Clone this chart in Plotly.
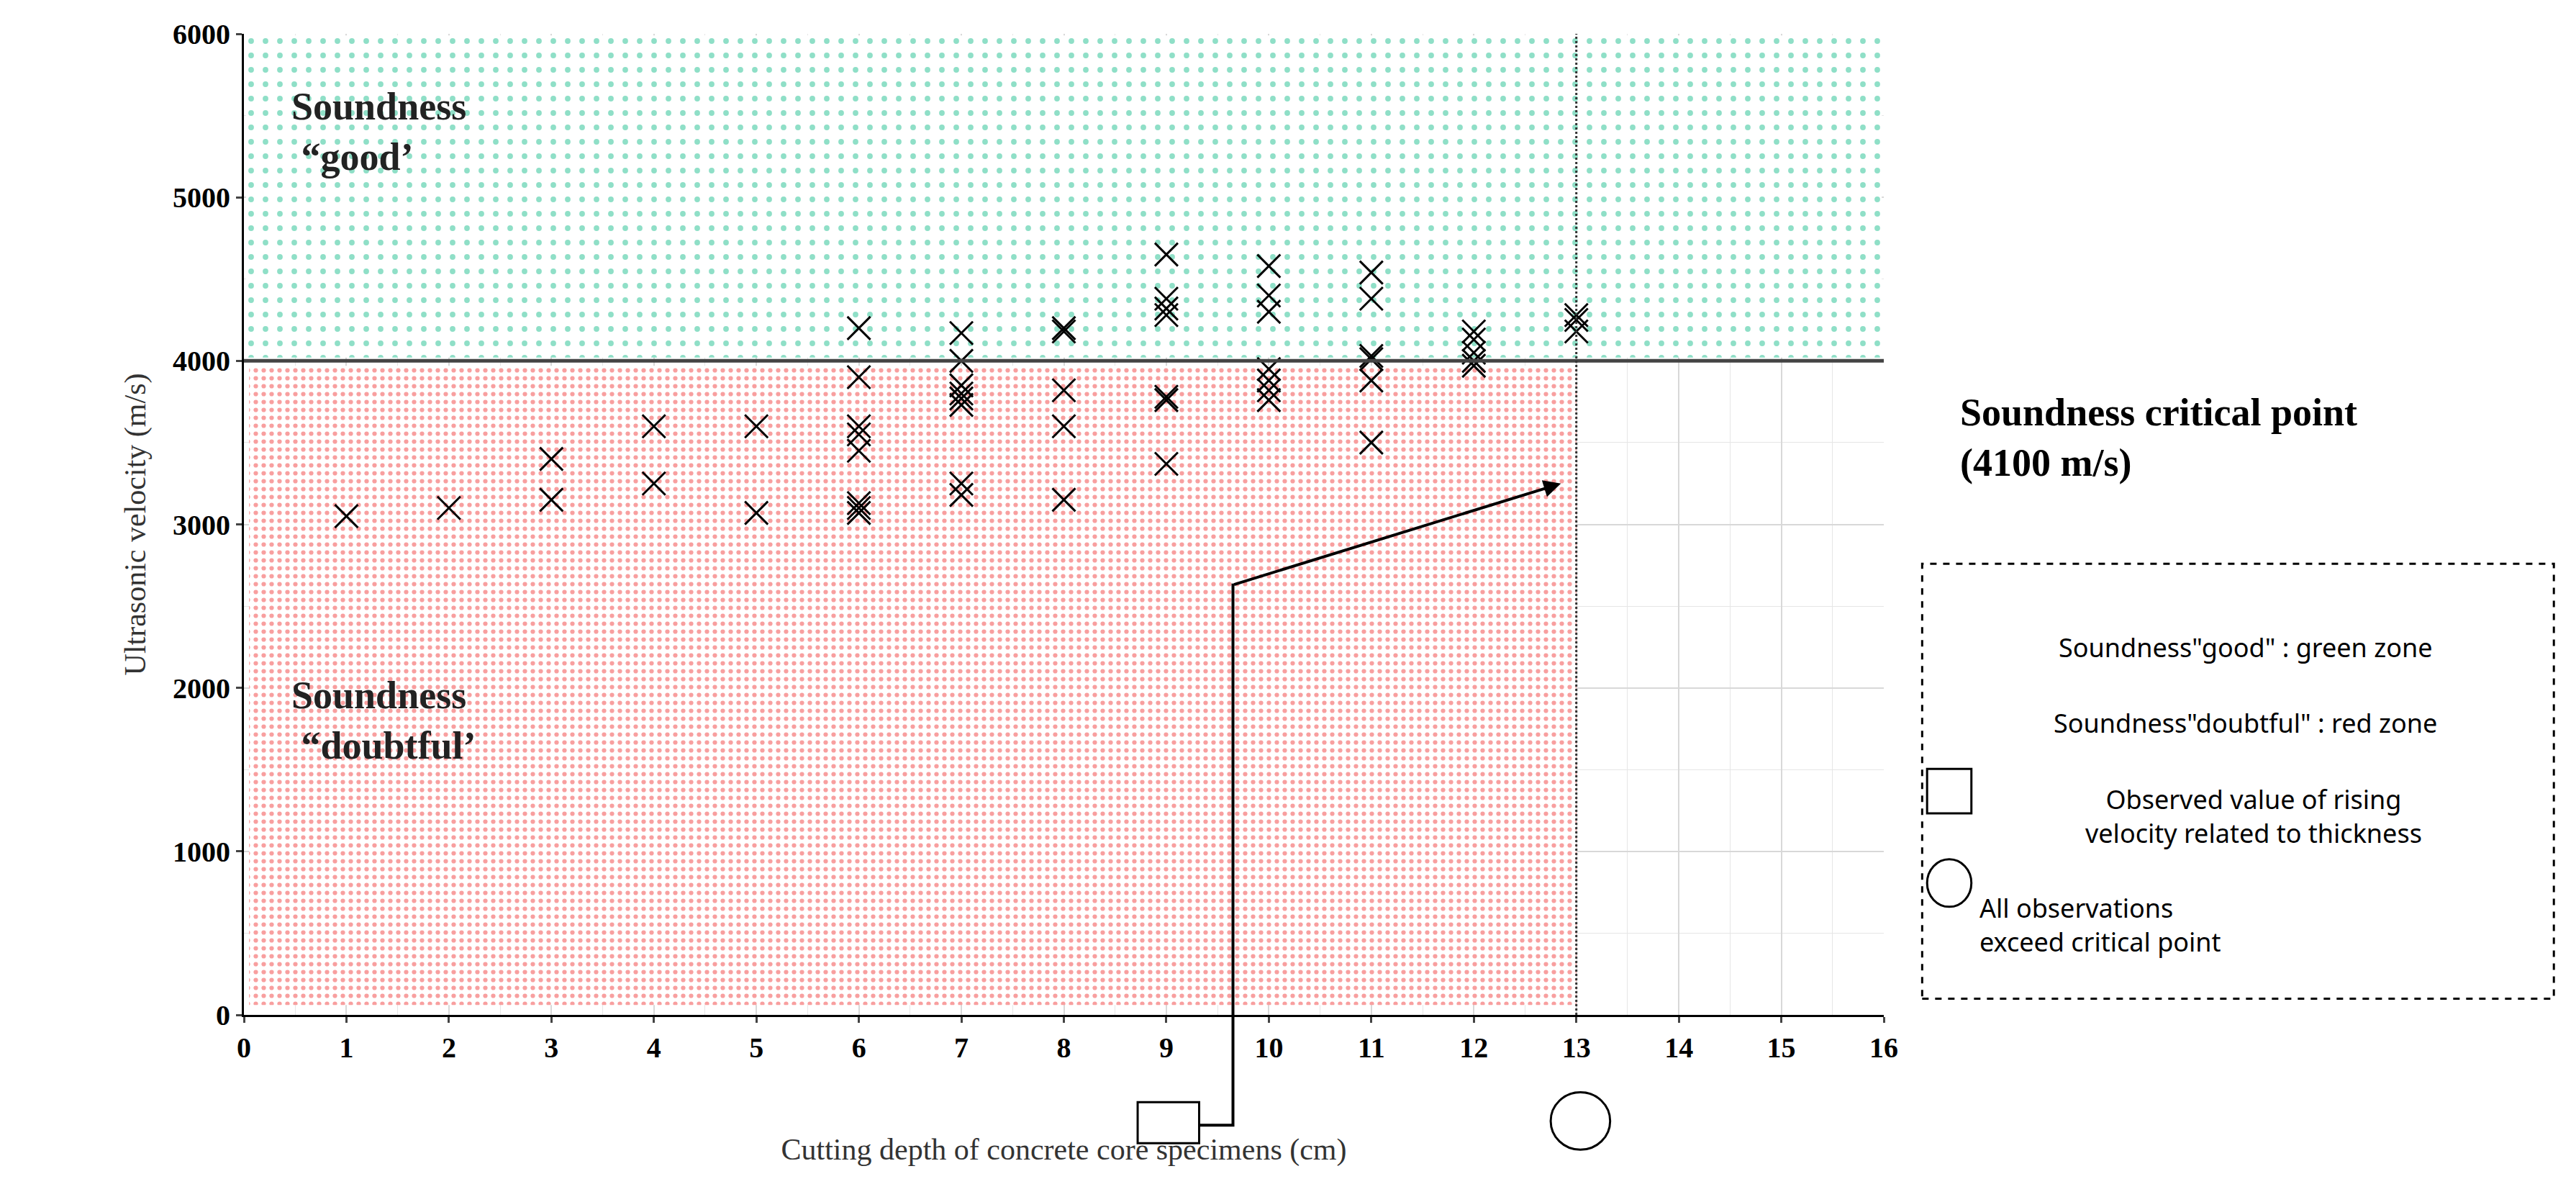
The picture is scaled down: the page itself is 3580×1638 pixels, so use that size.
import plotly.graph_objects as go

depth = [1, 2, 3, 3, 4, 4, 5, 5,
         6, 6, 6, 6, 6, 6, 6, 6,
         7, 7, 7, 7, 7, 7, 7, 7,
         8, 8, 8, 8, 8,
         9, 9, 9, 9, 9, 9, 9,
         10, 10, 10, 10, 10, 10, 10,
         11, 11, 11, 11, 11, 11,
         12, 12, 12, 12, 12,
         13, 13, 13]
velocity = [3050, 3100, 3400, 3150, 3600, 3250, 3600, 3070,
            4200, 3900, 3600, 3550, 3450, 3130, 3100, 3070,
            4170, 4000, 3850, 3800, 3770, 3730, 3250, 3180,
            4200, 4180, 3820, 3600, 3150,
            4650, 4380, 4320, 4280, 3780, 3760, 3370,
            4580, 4400, 4300, 3950, 3880, 3820, 3760,
            4540, 4380, 4030, 4010, 3880, 3500,
            4180, 4130, 4050, 4000, 3970,
            4280, 4250, 4180]
x_ticks = list(range(0, 17))
y_ticks = [0, 1000, 2000, 3000, 4000, 5000, 6000]
critical = 4000

W, H = 3580, 1638
L, R, T, B = 331, 2610, 39, 1402
S = W / 1570.0
def px(xd): return (xd * S - L) / (R - L)
def py(yd): return (B - yd * S) / (B - T)

fig = go.Figure()
fig.add_trace(go.Scatter(x=[0.02, 15.98, 15.98, 0.02, 0.02], y=[4020, 4020, 5990, 5990, 4020],
    fill='toself', mode='none', hoverinfo='skip', showlegend=False,
    fillcolor='white',
    fillpattern=dict(shape='.', fgcolor='#20c090', bgcolor='white', size=20, solidity=0.12)))
fig.add_trace(go.Scatter(x=[0.05, 13, 13, 0.05, 0.05], y=[60, 60, 3970, 3970, 60],
    fill='toself', mode='none', hoverinfo='skip', showlegend=False,
    fillcolor='white',
    fillpattern=dict(shape='.', fgcolor='#f24040', bgcolor='white', size=11, solidity=0.25)))
fig.add_trace(go.Scatter(x=depth, y=velocity, mode='markers', showlegend=False,
    marker=dict(symbol='x-thin', size=32, line=dict(width=3, color='black'), color='black')))

fig.add_shape(type='line', xref='x', yref='y', x0=0, x1=16.4, y0=critical, y1=critical,
              line=dict(color='#444', width=5))
fig.add_shape(type='line', xref='x', yref='y', x0=13, x1=13, y0=0, y1=6000,
              line=dict(color='#333', width=3, dash='dot'))

fig.add_shape(type='rect', xref='x', yref='paper', x0=8.72, x1=9.32, y0=py(693), y1=py(668),
              line=dict(color='black', width=3))
fig.add_shape(type='circle', xref='x', yref='paper', x0=12.75, x1=13.33, y0=py(697), y1=py(662),
              line=dict(color='black', width=3))
fig.add_shape(type='path', xref='x', yref='paper',
              path=f'M 9.32 {py(682)} L 9.65 {py(682)} L 9.65 {py(352)}',
              line=dict(color='black', width=4))
fig.add_annotation(x=12.85, y=3250, ax=9.65, ay=2630, xref='x', yref='y', axref='x', ayref='y',
                   showarrow=True, arrowhead=2, arrowsize=1.2, arrowwidth=4, arrowcolor='black', text='')

serif = 'Liberation Serif'
fig.add_annotation(x=0.45, y=5400, xref='x', yref='y', text='<b>Soundness<br> “good’</b>',
                   showarrow=False, xanchor='left', align='left', font=dict(family=serif, size=54, color='#222'))
fig.add_annotation(x=0.45, y=1800, xref='x', yref='y', text='<b>Soundness<br> “doubtful’</b>',
                   showarrow=False, xanchor='left', align='left', font=dict(family=serif, size=54, color='#222'))
fig.add_annotation(x=px(1190), y=py(263), xref='paper', yref='paper',
                   text='<b>Soundness critical point<br>(4100 m/s)</b>', showarrow=False,
                   xanchor='left', yanchor='middle', align='left', font=dict(family=serif, size=54, color='black'))

fig.add_shape(type='rect', xref='paper', yref='paper', x0=px(1168), x1=px(1553), y0=py(605), y1=py(340),
              line=dict(color='black', width=3, dash='dash'))
sans = 'Noto Sans'
fig.add_annotation(x=px(1365), y=py(391), xref='paper', yref='paper', showarrow=False, xanchor='center', yanchor='middle',
                   text='Soundness"good" : green zone', font=dict(family=sans, size=36, color='black'))
fig.add_annotation(x=px(1365), y=py(437), xref='paper', yref='paper', showarrow=False, xanchor='center', yanchor='middle',
                   text='Soundness"doubtful" : red zone', font=dict(family=sans, size=36, color='black'))
fig.add_annotation(x=px(1370), y=py(494), xref='paper', yref='paper', showarrow=False, xanchor='center', yanchor='middle',
                   text='Observed value of rising<br>velocity related to thickness',
                   font=dict(family=sans, size=36, color='black'))
fig.add_annotation(x=px(1202), y=py(560), xref='paper', yref='paper', showarrow=False, xanchor='left', yanchor='middle',
                   align='left', text='All observations<br>exceed critical point', font=dict(family=sans, size=36, color='black'))
fig.add_shape(type='rect', xref='paper', yref='paper', x0=px(1171), x1=px(1198), y0=py(492), y1=py(465),
              line=dict(color='black', width=3))
fig.add_shape(type='circle', xref='paper', yref='paper', x0=px(1171), x1=px(1198), y0=py(549), y1=py(520),
              line=dict(color='black', width=3))

fig.update_layout(
    width=W, height=H, margin=dict(l=L, r=W - R, t=T, b=H - B),
    plot_bgcolor='white', paper_bgcolor='white',
    xaxis=dict(range=[0, 16], tickvals=x_ticks, showgrid=True, gridcolor='#d8d8d8', gridwidth=2,
               minor=dict(dtick=0.5, showgrid=True, gridcolor='#e6e6e6', gridwidth=1),
               showline=True, linecolor='black', linewidth=3, ticks='outside', ticklen=8, tickwidth=3,
               tickfont=dict(family=serif, size=40, color='black', weight='bold'),
               title=dict(text='Cutting depth of concrete core specimens (cm)', standoff=105,
                          font=dict(family=serif, size=42, color='#333')), zeroline=False),
    yaxis=dict(range=[0, 6000], tickvals=y_ticks, showgrid=True, gridcolor='#d8d8d8', gridwidth=2,
               minor=dict(dtick=500, showgrid=True, gridcolor='#e6e6e6', gridwidth=1),
               showline=True, linecolor='black', linewidth=3, ticks='outside', ticklen=8, tickwidth=3,
               tickfont=dict(family=serif, size=40, color='black', weight='bold'),
               title=dict(text='Ultrasonic velocity (m/s)', standoff=25,
                          font=dict(family=serif, size=42, color='#333')), zeroline=False),
)
fig.write_html('out.html')
